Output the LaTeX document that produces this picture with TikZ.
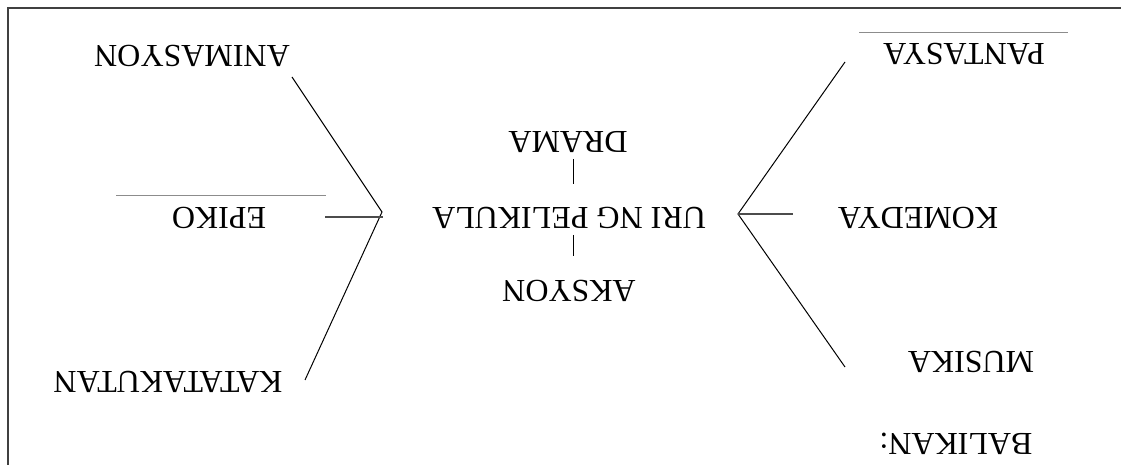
\documentclass[tikz,border=0pt]{standalone}
\usepackage{fontspec}
\setmainfont{Liberation Serif}
\usetikzlibrary{positioning}
\tikzset{
  genre/.style={rotate=180, font=\fontsize{16}{19}\selectfont, inner sep=2pt},
  spoke/.style={black, line width=0.5pt},
  stub/.style={black!70, line width=0.8pt},
  rulebar/.style={black!45, line width=0.5pt},
  frameline/.style={black!75, line width=1pt}
}

\begin{document}
\begin{tikzpicture}[x=0.5pt, y=-0.5pt]
  \useasboundingbox (0,0) rectangle (1121,465);
  % page frame (rotated page)
  \coordinate (fA) at (1121,8);
  \coordinate (fB) at (8,8);
  \coordinate (fC) at (8,465);
  \draw[frameline] (fA) -- (fB) -- (fC);

  % centre and vertical branches
  \node[genre] (uri) at (569,218) {URI NG PELIKULA};
  \node[genre] (drama) at (568,142) {DRAMA};
  \node[genre] (aksyon) at (569,291) {AKSYON};
  \coordinate (dramaTip) at (573,159);
  \coordinate (uriTop) at (573,184);
  \coordinate (uriBot) at (573,235);
  \coordinate (aksyonTip) at (573,256);
  \draw[spoke] (dramaTip) -- (uriTop);
  \draw[spoke] (uriBot) -- (aksyonTip);

  % left fan
  \node[genre] (animasyon) at (192,56) {ANIMASYON};
  \node[genre] (epiko) at (219,218) {EPIKO};
  \node[genre] (katatakutan) at (168,382) {KATATAKUTAN};
  \coordinate (lhub) at (382,212);
  \coordinate (animTip) at (292,77);
  \coordinate (kataTip) at (305,380);
  \coordinate (epikoTip) at (325,217);
  \coordinate (lhubB) at (383,217);
  \draw[spoke] (animTip) -- (lhub) -- (kataTip);
  \draw[stub] (epikoTip) -- (lhubB);
  \coordinate (epikoBarL) at (116,196);
  \coordinate (epikoBarR) at (326,196);
  \draw[rulebar] (epikoBarL) -- (epikoBarR);

  % right fan
  \node[genre] (pantasya) at (964,54) {PANTASYA};
  \node[genre] (komedya) at (918,218) {KOMEDYA};
  \node[genre] (musika) at (971,362) {MUSIKA};
  \node[genre] (balikan) at (956,444) {BALIKAN:};
  \coordinate (rhub) at (738,214);
  \coordinate (pantaTip) at (845,62);
  \coordinate (musikaTip) at (845,367);
  \coordinate (komedyaTip) at (793,214);
  \draw[spoke] (pantaTip) -- (rhub) -- (musikaTip);
  \draw[stub] (rhub) -- (komedyaTip);
  \coordinate (pantaBarL) at (859,33);
  \coordinate (pantaBarR) at (1068,33);
  \draw[rulebar] (pantaBarL) -- (pantaBarR);
\end{tikzpicture}
\end{document}
